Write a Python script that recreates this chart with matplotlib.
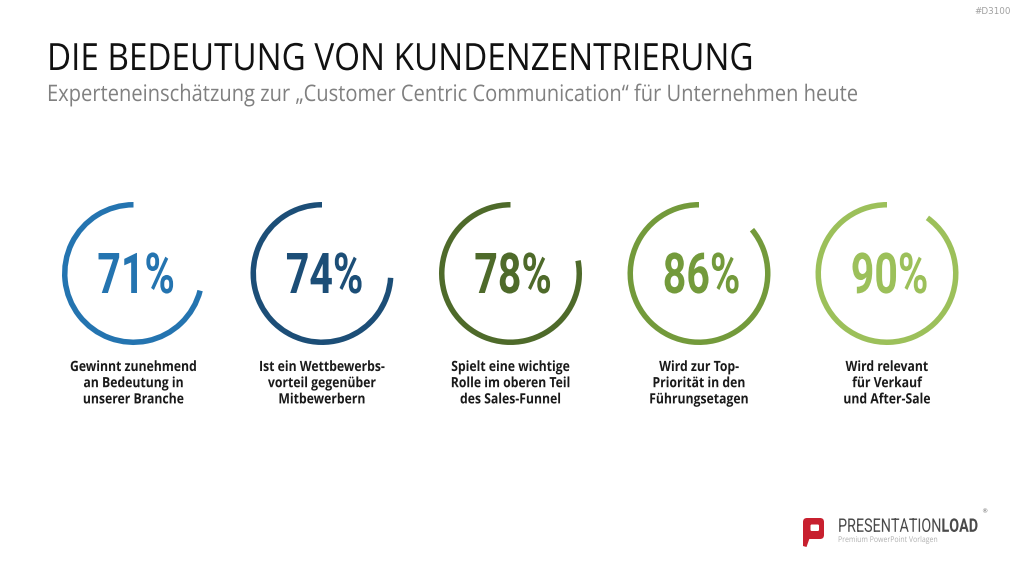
import matplotlib
matplotlib.use("Agg")
import matplotlib.pyplot as plt
from matplotlib.patches import Wedge, FancyBboxPatch, Polygon
from matplotlib.patheffects import AbstractPathEffect
from matplotlib.transforms import Affine2D, Bbox

plt.rcParams["mathtext.fontset"] = "custom"
plt.rcParams["mathtext.rm"] = "Roboto"
plt.rcParams["mathtext.bf"] = "Roboto:bold"

# ---- data ----
values = [71, 74, 78, 86, 90]
value_labels = ["71%", "74%", "78%", "86%", "90%"]
descriptions = [
    "Gewinnt zunehmend\nan Bedeutung in\nunserer Branche",
    "Ist ein Wettbewerbs-\nvorteil gegenüber\nMitbewerbern",
    "Spielt eine wichtige\nRolle im oberen Teil\ndes Sales-Funnel",
    "Wird zur Top-\nPriorität in den\nFührungsetagen",
    "Wird relevant\nfür Verkauf\nund After-Sale",
]
colors = ["#2474b0", "#1c4e77", "#4e6a2a", "#739a3b", "#9cc05a"]
title = "DIE BEDEUTUNG VON KUNDENZENTRIERUNG"
subtitle = "Experteneinschätzung zur „Customer Centric Communication“ für Unternehmen heute"

W, H = 1024, 576
fig = plt.figure(figsize=(W / 100, H / 100), dpi=100)
ax = fig.add_axes([0, 0, 1, 1])
ax.set_xlim(0, W)
ax.set_ylim(0, H)
ax.set_aspect("equal")
ax.axis("off")
renderer = fig.canvas.get_renderer()


class Squeeze(AbstractPathEffect):
    """Horizontally compress text glyphs around a given display x."""
    def __init__(self, sx, x0):
        super().__init__()
        self.sx, self.x0 = sx, x0

    def draw_path(self, renderer, gc, tpath, affine, rgbFace=None):
        t = affine + Affine2D().translate(-self.x0, 0).scale(self.sx, 1).translate(self.x0, 0)
        renderer.draw_path(gc, tpath, t, rgbFace)


def Y(py):
    return H - py


def apply_squeeze(t, sx):
    x, y = t.get_position()
    x_disp = ax.transData.transform((x, y))[0]
    t.set_path_effects([Squeeze(sx, x_disp)])
    orig = t.get_window_extent

    def squeezed_extent(renderer=None, dpi=None):
        bb = orig(renderer, dpi)
        return Bbox([[x_disp + (bb.x0 - x_disp) * sx, bb.y0],
                     [x_disp + (bb.x1 - x_disp) * sx, bb.y1]])

    t.get_window_extent = squeezed_extent


def squeezed_text(x, y, s, target_w, ha="center", **kw):
    t = ax.text(x, y, s, ha=ha, **kw)
    w = t.get_window_extent(renderer).width
    apply_squeeze(t, target_w / w)
    return t


centers_x = [133.5, 322, 510.5, 699, 887]
cy = 273.5
r_out = 71.5
ring_w = 5.5

pct_texts = []
lab_texts = []
for cx, v, lab, desc, col in zip(centers_x, values, value_labels, descriptions, colors):
    ax.add_patch(Wedge((cx, Y(cy)), r_out, 90, 90 + 360 * v / 100,
                       width=ring_w, facecolor=col, edgecolor="none"))
    pct_texts.append(ax.text(cx + 2.5, Y(293), lab, ha="center", va="baseline",
                             fontsize=40.5, fontweight="bold", color=col,
                             family="Roboto"))
    lab_texts.append(ax.text(cx, Y(360), desc, ha="center", va="top",
                             fontsize=10.2, fontweight="bold", color="#1a1a1a",
                             family="Open Sans", linespacing=1.2))

# one common compression factor per text group
sx_pct = 77.5 / pct_texts[-1].get_window_extent(renderer).width
for t in pct_texts:
    apply_squeeze(t, sx_pct)
sx_lab = 127 / lab_texts[0].get_window_extent(renderer).width
for t in lab_texts:
    apply_squeeze(t, sx_lab)

squeezed_text(47, Y(70), title, 706, ha="left", va="baseline", fontsize=27,
              color="#111111", family="Open Sans")
squeezed_text(47, Y(101), subtitle, 811, ha="left", va="baseline", fontsize=16.4,
              color="#808080", family="Open Sans")
ax.text(1011, Y(12), "#D3100", ha="right", va="center", fontsize=6.3,
        color="#a0a0a0", family="DejaVu Sans")

# logo
red = "#c8202f"
ax.add_patch(FancyBboxPatch((803, Y(539)), 21, 21,
                            boxstyle="round,pad=0,rounding_size=4",
                            facecolor=red, edgecolor="none"))
ax.add_patch(Polygon([(803, Y(534)), (810, Y(537)), (806.5, Y(547)), (803, Y(546))],
                     closed=True, facecolor=red, edgecolor="none"))
ax.add_patch(FancyBboxPatch((810.5, Y(531)), 8.5, 6.5,
                            boxstyle="round,pad=0,rounding_size=1.2",
                            facecolor="white", edgecolor="none"))
squeezed_text(908.5, Y(532), r"PRESENTATION$\mathbf{LOAD}$", 141, va="baseline",
              fontsize=13.5, color="#4a4a4a", family="Roboto")
ax.text(981, Y(514), "®", ha="left", va="bottom", fontsize=4.5,
        color="#666666", family="DejaVu Sans")
squeezed_text(838, Y(542), "Premium PowerPoint Vorlagen", 99, ha="left",
              va="baseline", fontsize=5.8, color="#b0b0b0", family="Open Sans")

fig.savefig("out.png", dpi=100, facecolor="white")
